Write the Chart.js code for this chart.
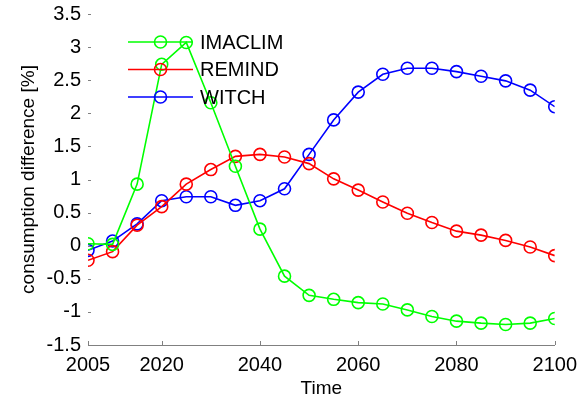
<!DOCTYPE html>
<html>
<head>
<meta charset="utf-8">
<script src="https://cdn.jsdelivr.net/npm/chart.js@4/dist/chart.umd.min.js"></script>
<style>
html,body{margin:0;padding:0;background:#ffffff;}
#wrap{width:585px;height:402px;}
</style>
</head>
<body>
<div id="wrap"><canvas id="c" width="585" height="402"></canvas></div>
<script>
const years = [2005,2010,2015,2020,2025,2030,2035,2040,2045,2050,2055,2060,2065,2070,2075,2080,2085,2090,2095,2100];
const imaclim = [0.03,0.02,0.93,2.74,3.07,2.16,1.20,0.25,-0.46,-0.75,-0.81,-0.86,-0.88,-0.97,-1.07,-1.14,-1.17,-1.19,-1.17,-1.10];
const remind  = [-0.22,-0.09,0.31,0.59,0.93,1.15,1.35,1.38,1.34,1.24,1.01,0.84,0.66,0.49,0.35,0.22,0.16,0.08,-0.02,-0.15];
const witch   = [-0.07,0.07,0.33,0.68,0.74,0.74,0.61,0.68,0.86,1.38,1.90,2.32,2.59,2.68,2.68,2.63,2.56,2.49,2.35,2.10];
const seriesNames = ['IMACLIM','REMIND','WITCH'];
const seriesColors = ['#00ff00','#ff0000','#0000ff'];
const xTicks = [2005,2020,2040,2060,2080,2100];
const yMin = -1.5, yMax = 3.5, yStep = 0.5;

const FONT = "'Liberation Sans', Arial, sans-serif";
const seriesData = [imaclim, remind, witch];

const datasets = seriesData.map((vals, i) => ({
  label: seriesNames[i],
  data: years.map((x, k) => ({x: x, y: vals[k]})),
  borderColor: seriesColors[i],
  backgroundColor: 'rgba(0,0,0,0)',
  borderWidth: 1.6,
  pointRadius: 6,
  pointBorderWidth: 1.6,
  pointBackgroundColor: 'rgba(0,0,0,0)',
  pointBorderColor: seriesColors[i],
  tension: 0
}));

const innerTicks = {
  id: 'innerTicks',
  afterDraw(chart) {
    const ctx = chart.ctx, a = chart.chartArea;
    const xs = chart.scales.x, ys = chart.scales.y;
    ctx.save();
    ctx.strokeStyle = '#808080';
    ctx.lineWidth = 1;
    xs.ticks.forEach(t => {
      const px = Math.round(xs.getPixelForValue(t.value)) + 0.5;
      ctx.beginPath(); ctx.moveTo(px, a.bottom); ctx.lineTo(px, a.bottom - 4); ctx.stroke();
    });
    ys.ticks.forEach(t => {
      const py = Math.round(ys.getPixelForValue(t.value)) + 0.5;
      ctx.beginPath(); ctx.moveTo(a.left, py); ctx.lineTo(a.left + 3, py); ctx.stroke();
    });
    ctx.restore();
  }
};

const legendBox = {
  id: 'legendBox',
  afterDatasetsDraw(chart) {
    const ctx = chart.ctx;
    const x0 = 128, x1 = 193, tx = 200;
    const ys0 = [42, 69.5, 97];
    ctx.save();
    ctx.font = '20px ' + FONT;
    ctx.textBaseline = 'middle';
    chart.data.datasets.forEach((ds, i) => {
      const y = ys0[i];
      ctx.strokeStyle = ds.borderColor;
      ctx.lineWidth = 1.6;
      ctx.beginPath(); ctx.moveTo(x0, y); ctx.lineTo(x1, y); ctx.stroke();
      ctx.beginPath(); ctx.arc((x0 + x1) / 2, y, 6, 0, Math.PI * 2); ctx.stroke();
      ctx.fillStyle = '#000';
      ctx.fillText(ds.label, tx, y + 1);
    });
    ctx.restore();
  }
};

new Chart(document.getElementById('c'), {
  type: 'line',
  data: { datasets: datasets },
  options: {
    responsive: false,
    animation: false,
    devicePixelRatio: 1,
    layout: { padding: { left: 0, right: 13, top: 14, bottom: 0 } },
    plugins: { legend: { display: false }, tooltip: { enabled: false } },
    scales: {
      x: {
        type: 'linear',
        min: 2005, max: 2100,
        afterBuildTicks(scale) { scale.ticks = xTicks.map(v => ({value: v})); },
        afterFit(scale) { scale.height = 57; },
        grid: { display: false, drawTicks: false },
        border: { display: true, color: '#808080', width: 1 },
        ticks: { color: '#000', font: { family: FONT, size: 20 }, padding: 8, maxRotation: 0, autoSkip: false, callback: v => String(v) },
        title: { display: true, text: 'Time', color: '#000', font: { family: FONT, size: 19 }, padding: { top: 0, bottom: 2 } }
      },
      y: {
        min: yMin, max: yMax,
        afterFit(scale) { scale.width = 88; scale.paddingTop = 0; scale.paddingBottom = 0; },
        ticks: { stepSize: yStep, color: '#000', font: { family: FONT, size: 20 }, padding: 7, callback: v => String(v) },
        grid: { display: false, drawTicks: false },
        border: { display: false },
        title: { display: true, text: 'consumption difference [%]', color: '#000', font: { family: FONT, size: 19 }, padding: { top: 17, bottom: 0 } }
      }
    }
  },
  plugins: [innerTicks, legendBox]
});
</script>
</body>
</html>
